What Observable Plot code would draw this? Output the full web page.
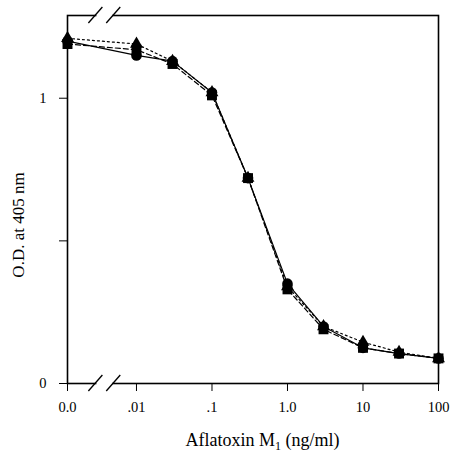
<!DOCTYPE html>
<html>
<head>
<meta charset="utf-8">
<script src="https://cdn.jsdelivr.net/npm/d3@7"></script>
<script src="https://cdn.jsdelivr.net/npm/@observablehq/plot@0.6"></script>
<style>
  html, body { margin: 0; padding: 0; background: #fff; }
  #chart svg { display: block; }
</style>
</head>
<body>
<div id="chart"></div>
<script>
// Aflatoxin M1 concentration (ng/ml); 0 is drawn at the broken-axis origin
const concentration = [0, 0.01, 0.03, 0.1, 0.3, 1, 3, 10, 30, 100];
const odCircle   = [1.20, 1.15, 1.13, 1.02, 0.72, 0.35, 0.20, 0.125, 0.105, 0.088];
const odSquare   = [1.19, 1.17, 1.12, 1.01, 0.72, 0.33, 0.19, 0.125, 0.105, 0.088];
const odTriangle = [1.21, 1.19, 1.13, 1.02, 0.72, 0.34, 0.20, 0.145, 0.11, 0.088];
const xTickValues = [0, 0.01, 0.1, 1, 10, 100];
const xTickLabels = ["0.0", ".01", ".1", "1.0", "10", "100"];
const yTickValues = [0, 0.5, 1];
const yTickLabels = ["0", "", "1"];
const zeroPosition = 0.00122;      // where concentration 0 sits on the log axis
const axisBreak = [0.0029, 0.0050]; // the two "//" break marks
const xTitle = ["Aflatoxin M", "1", " (ng/ml)"];
const yTitle = "O.D. at 405 nm";

const pos = c => (c === 0 ? zeroPosition : c);
// drawing order: triangles underneath, squares on top
const series = [
  {name: "triangle", values: odTriangle, dash: "2,3", r: 4.8},
  {name: "circle", values: odCircle, dash: null, r: 5.3},
  {name: "square", values: odSquare, dash: "5,3", r: 5.6}
];
const rows = series.flatMap(s => concentration.map((c, i) => ({series: s.name, x: pos(c), od: s.values[i]})));

const font = "'Liberation Serif', 'Times New Roman', serif";

const decorations = (index, scales, values, dims) => {
  const {x} = scales;
  const g = d3.create("svg:g");
  const top = dims.marginTop, bottom = dims.height - dims.marginBottom;
  for (const yy of [top, bottom]) {
    g.append("rect").attr("x", x(axisBreak[0]) + 1).attr("width", x(axisBreak[1]) - x(axisBreak[0]) - 2)
      .attr("y", yy - 2).attr("height", 4).attr("fill", "white");
    for (const b of axisBreak) {
      g.append("line").attr("x1", x(b) - 7).attr("y1", yy + 8).attr("x2", x(b) + 7).attr("y2", yy - 8)
        .attr("stroke", "black").attr("stroke-width", 1.3);
    }
  }
  g.append("text").attr("transform", `translate(18,${(top + bottom) / 2 + 26}) rotate(-90)`)
    .attr("text-anchor", "middle").attr("dominant-baseline", "central")
    .attr("font-family", font).attr("font-size", 17).text(yTitle);
  const t = g.append("text").attr("x", (dims.marginLeft + dims.width - dims.marginRight) / 2 + 10)
    .attr("y", bottom + 63).attr("text-anchor", "middle")
    .attr("font-family", font).attr("font-size", 18);
  t.append("tspan").text(xTitle[0]);
  t.append("tspan").attr("font-size", 12).attr("dy", 4).text(xTitle[1]);
  t.append("tspan").attr("dy", -4).text(xTitle[2]);
  return g.node();
};

const chart = Plot.plot({
  width: 451,
  height: 461,
  marginLeft: 67,
  marginRight: 13,
  marginTop: 15,
  marginBottom: 78,
  style: {fontFamily: font, fontSize: "14.5px", color: "black", background: "white"},
  x: {type: "log", domain: [zeroPosition, 100], ticks: xTickValues.map(pos),
      tickFormat: (d) => xTickLabels[xTickValues.map(pos).indexOf(d)], tickSize: 8, tickPadding: 10, label: null},
  y: {domain: [0, 1.29], ticks: yTickValues, tickFormat: (d) => yTickLabels[yTickValues.indexOf(d)],
      tickSize: 8, tickPadding: 13, label: null},
  marks: [
    Plot.frame({stroke: "black", strokeWidth: 1.6}),
    ...series.map(s => Plot.line(rows.filter(r => r.series === s.name),
      {x: "x", y: "od", stroke: "black", strokeWidth: 1.2, strokeDasharray: s.dash})),
    ...series.map(s => Plot.dot(rows.filter(r => r.series === s.name),
      {x: "x", y: "od", symbol: s.name, fill: "black", r: s.r})),
    decorations
  ]
});
document.getElementById("chart").appendChild(chart);
</script>
</body>
</html>
